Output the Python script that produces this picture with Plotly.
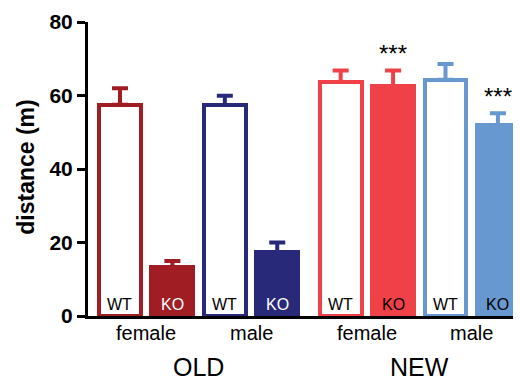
import plotly.graph_objects as go

groups = ["OLD", "OLD", "OLD", "OLD", "NEW", "NEW", "NEW", "NEW"]
sexes = ["female", "female", "male", "male", "female", "female", "male", "male"]
genotypes = ["WT", "KO", "WT", "KO", "WT", "KO", "WT", "KO"]
means = [57.5, 13.3, 57.4, 17.4, 63.7, 62.6, 64.3, 52.0]
errors = [4.5, 1.7, 2.5, 2.6, 3.1, 4.2, 4.3, 3.2]
colors = ["#A01D23", "#A01D23", "#29297A", "#29297A",
          "#EF4147", "#EF4147", "#6798CF", "#6798CF"]
filled = [False, True, False, True, False, True, False, True]
label_colors = ["black", "white", "black", "white", "black", "black", "black", "black"]
stars = ["", "", "", "", "", "***", "", "***"]
y_ticks = [0, 20, 40, 60, 80]

# x positions: bars within a group one unit apart, extra gap between OLD and NEW
gap = 0.21
xpos = [i + (gap if g == "NEW" else 0) for i, g in enumerate(groups)]

fig = go.Figure()
fig.add_trace(go.Bar(
    x=xpos, y=means, width=0.8,
    marker=dict(color=[c if f else "white" for c, f in zip(colors, filled)],
                line=dict(color=colors, width=4)),
    showlegend=False, cliponaxis=False,
))
for x, m, e, c in zip(xpos, means, errors, colors):
    fig.add_trace(go.Scatter(
        x=[x], y=[m], mode="markers", marker=dict(size=0.1, color=c, opacity=0),
        error_y=dict(type="data", array=[e], arrayminus=[0], symmetric=False,
                     thickness=4, width=8, color=c),
        showlegend=False, hoverinfo="skip", cliponaxis=False,
    ))

font = "Arial, Liberation Sans, sans-serif"
ann = []
for x, gtype, lc in zip(xpos, genotypes, label_colors):
    ann.append(dict(x=x, y=3, text=gtype, showarrow=False, xref="x", yref="y",
                    font=dict(family=font, size=16, color=lc)))
for x, m, e, s in zip(xpos, means, errors, stars):
    if s:
        ann.append(dict(x=x, y=m + e + 4.6, text=s, showarrow=False, xref="x", yref="y",
                        yanchor="middle", font=dict(family=font, size=24, color="black")))
for i in range(0, 8, 2):
    ann.append(dict(x=(xpos[i] + xpos[i + 1]) / 2, y=-0.058, text=sexes[i], showarrow=False,
                    xref="x", yref="paper", yanchor="middle",
                    font=dict(family=font, size=20, color="black")))
for g in ["OLD", "NEW"]:
    xs = [x for x, gg in zip(xpos, groups) if gg == g]
    ann.append(dict(x=sum(xs) / len(xs), y=-0.173, text=g, showarrow=False, xref="x",
                    yref="paper", yanchor="middle",
                    font=dict(family=font, size=25, color="black")))
ann.append(dict(x=-0.145, y=0.505, text="<b>distance (m)</b>", textangle=-90, showarrow=False,
                xref="paper", yref="paper", xanchor="center", yanchor="middle",
                font=dict(family=font, size=23, color="black")))

fig.update_layout(
    width=513, height=373,
    margin=dict(l=80, r=0, t=14, b=65),
    plot_bgcolor="white", paper_bgcolor="white",
    bargap=0, annotations=ann,
    xaxis=dict(range=[-0.61, 7.65], showticklabels=False,
               showline=True, linecolor="black", linewidth=3, ticks="",
               showgrid=False, zeroline=False),
    yaxis=dict(range=[0, 80], tickvals=y_ticks, showline=True, linecolor="black",
               linewidth=3, ticks="outside", ticklen=8, tickwidth=3, tickcolor="black",
               showgrid=False, zeroline=False,
               tickfont=dict(family=font, size=21, color="black", weight="bold")),
)
fig.write_html("out.html")
